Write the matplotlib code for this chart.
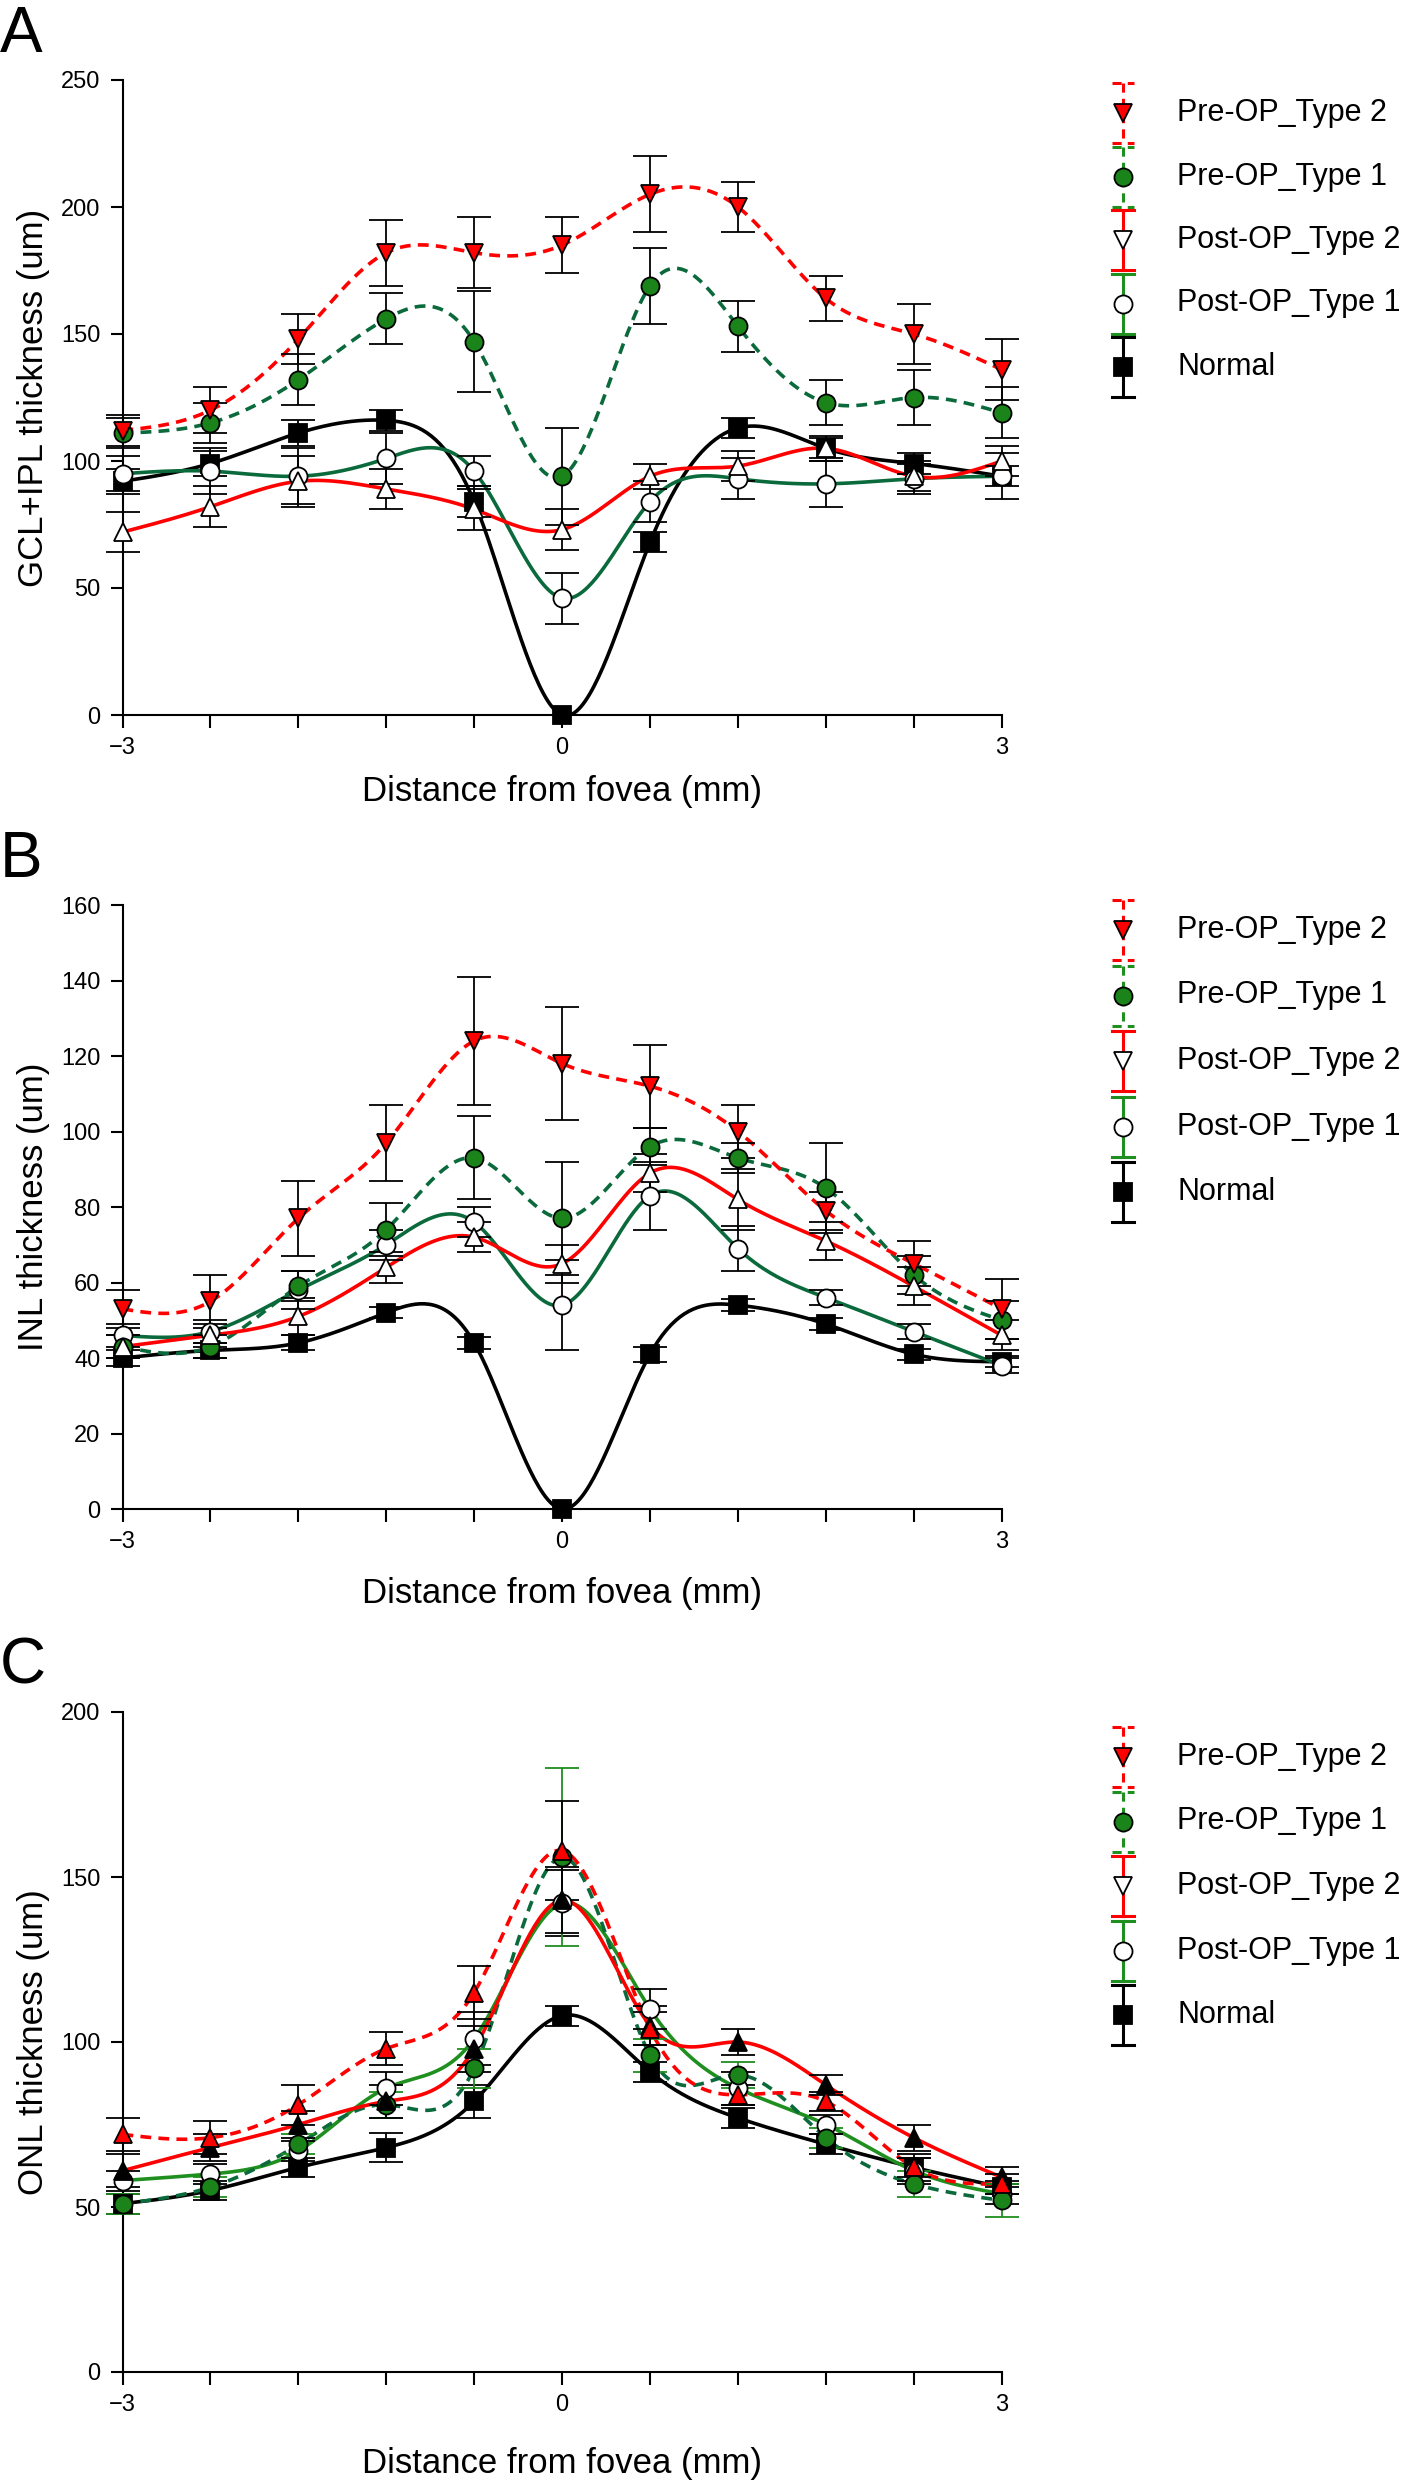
import numpy as np
import matplotlib
matplotlib.use("Agg")
import matplotlib.pyplot as plt

plt.rcParams['font.family'] = ['Liberation Sans', 'DejaVu Sans']

# distance from fovea (mm)
x = [-3, -2.4, -1.8, -1.2, -0.6, 0, 0.6, 1.2, 1.8, 2.4, 3]
labels = ['Pre-OP_Type 2', 'Pre-OP_Type 1', 'Post-OP_Type 2', 'Post-OP_Type 1', 'Normal']

# A: GCL+IPL
a_pre2 = [112, 120, 148, 182, 182, 185, 205, 200, 164, 150, 136]
a_pre2_err = [6, 9, 10, 13, 14, 11, 15, 10, 9, 12, 12]
a_pre1 = [111, 115, 132, 156, 147, 94, 169, 153, 123, 125, 119]
a_pre1_err = [6, 8, 10, 10, 20, 19, 15, 10, 9, 11, 10]
a_post2 = [72, 82, 92, 89, 81, 73, 94, 98, 105, 94, 100]
a_post2_err = [8, 8, 10, 8, 8, 8, 5, 6, 5, 6, 6]
a_post1 = [95, 96, 94, 101, 96, 46, 84, 93, 91, 93, 94]
a_post1_err = [7, 9, 11, 10, 6, 10, 8, 8, 9, 6, 9]
a_normal = [92, 99, 111, 116, 84, 0, 68, 113, 105, 99, 94]
a_normal_err = [5, 5, 5, 4, 6, 0, 4, 4, 4, 4, 4]

# B: INL
b_pre2 = [53, 55, 77, 97, 124, 118, 112, 100, 79, 65, 53]
b_pre2_err = [5, 7, 10, 10, 17, 15, 11, 7, 5, 6, 8]
b_pre1 = [43, 43, 59, 74, 93, 77, 96, 93, 85, 62, 50]
b_pre1_err = [3, 3, 4, 7, 11, 15, 5, 4, 12, 5, 5]
b_post2 = [43, 46, 51, 64, 72, 65, 89, 82, 71, 59, 46]
b_post2_err = [3, 3, 5, 4, 4, 5, 5, 8, 5, 5, 4]
b_post1 = [46, 47, 58, 70, 76, 54, 83, 69, 56, 47, 38]
b_post1_err = [3, 3, 5, 4, 4, 12, 9, 6, 2, 2, 2]
b_normal = [40, 42, 44, 52, 44, 0, 41, 54, 49, 41, 39]
b_normal_err = [2, 2, 2, 1.5, 1.5, 0, 2, 1.5, 1.5, 1.5, 1.5]

# C: ONL
c_pre2 = [72, 71, 81, 98, 115, 158, 104, 84, 82, 62, 57]
c_pre2_err = [5, 5, 6, 5, 8, 15, 5, 3, 3, 4, 3]
c_pre1 = [51, 56, 69, 81, 92, 156, 96, 90, 71, 57, 52]
c_pre1_err = [3, 3, 3, 4, 6, 27, 5, 4, 3, 4, 5]
c_post2 = [61, 68, 75, 82, 98, 143, 105, 100, 87, 71, 59]
c_post2_err = [5, 4, 4, 5, 7, 10, 6, 4, 3, 4, 3]
c_post1 = [58, 60, 67, 86, 101, 142, 110, 86, 75, 61, 54]
c_post1_err = [3, 3, 3, 5, 8, 10, 6, 5, 3, 4, 3]
c_normal = [51, 55, 62, 68, 82, 108, 91, 77, 69, 62, 56]
c_normal_err = [3, 3, 3, 4.5, 5, 3, 3, 3, 3, 3, 2]


def smooth(xs, ys, num=400):
    # natural cubic spline through the points (curve style of the original)
    xs = np.asarray(xs, float)
    ys = np.asarray(ys, float)
    n = len(xs)
    h = np.diff(xs)
    A = np.zeros((n, n))
    b = np.zeros(n)
    A[0, 0] = A[-1, -1] = 1
    for i in range(1, n - 1):
        A[i, i - 1] = h[i - 1]
        A[i, i] = 2 * (h[i - 1] + h[i])
        A[i, i + 1] = h[i]
        b[i] = 6 * ((ys[i + 1] - ys[i]) / h[i] - (ys[i] - ys[i - 1]) / h[i - 1])
    M = np.linalg.solve(A, b)
    xx = np.linspace(xs[0], xs[-1], num)
    k = np.clip(np.searchsorted(xs, xx) - 1, 0, n - 2)
    hh = xs[k + 1] - xs[k]
    t0 = xs[k + 1] - xx
    t1 = xx - xs[k]
    yy = (M[k] * t0 ** 3 + M[k + 1] * t1 ** 3) / (6 * hh) \
        + (ys[k] / hh - M[k] * hh / 6) * t0 + (ys[k + 1] / hh - M[k + 1] * hh / 6) * t1
    return xx, yy


RED = '#ff0000'
DKGREEN = '#0b6a3c'
GREEN = '#1f8f1f'
MKGREEN = '#1a841a'
DASH = (0, (3, 2))

fig = plt.figure(figsize=(14.24, 24.8), dpi=100)
W, H = 1424, 2480
over = fig.add_axes([0, 0, 1, 1], zorder=-1)
over.set_xlim(0, W)
over.set_ylim(H, 0)
over.axis('off')

panels = [
    dict(letter='A', top=80, bottom=715, ymax=250, ystep=50, ylabel='GCL+IPL thickness (um)',
         data=[(a_normal, a_normal_err), (a_post1, a_post1_err), (a_pre1, a_pre1_err),
               (a_post2, a_post2_err), (a_pre2, a_pre2_err)],
         pre2_m='v', post2_fc='white', green2=DKGREEN, pre1_ecolor='black',
         leg_y=113, leg_dy=63.5, xlab_y=-0.095),
    dict(letter='B', top=905, bottom=1509, ymax=160, ystep=20, ylabel='INL thickness (um)',
         data=[(b_normal, b_normal_err), (b_post1, b_post1_err), (b_pre1, b_pre1_err),
               (b_post2, b_post2_err), (b_pre2, b_pre2_err)],
         pre2_m='v', post2_fc='white', green2=DKGREEN, pre1_ecolor='black',
         leg_y=930, leg_dy=65.5, xlab_y=-0.112),
    dict(letter='C', top=1712, bottom=2372, ymax=200, ystep=50, ylabel='ONL thickness (um)',
         data=[(c_normal, c_normal_err), (c_post1, c_post1_err), (c_pre1, c_pre1_err),
               (c_post2, c_post2_err), (c_pre2, c_pre2_err)],
         pre2_m='^', post2_fc='black', green2=GREEN, pre1_ecolor=GREEN,
         leg_y=1757, leg_dy=64.5, xlab_y=-0.113),
]

left_px, right_px = 122.5, 1001.7

for p in panels:
    ax = fig.add_axes([left_px / W, 1 - p['bottom'] / H,
                       (right_px - left_px) / W, (p['bottom'] - p['top']) / H])
    # order: Normal, Post1, Pre1, Post2, Pre2
    styles = [
        dict(color='black', ls='-', marker='s', mfc='black', ecolor='black'),
        dict(color=p['green2'], ls='-', marker='o', mfc='white', ecolor='black'),
        dict(color=DKGREEN, ls=DASH, marker='o', mfc=MKGREEN, ecolor=p['pre1_ecolor']),
        dict(color=RED, ls='-', marker='^', mfc=p['post2_fc'], ecolor='black'),
        dict(color=RED, ls=DASH, marker=p['pre2_m'], mfc=RED, ecolor='black'),
    ]
    for (vals, errs), st in zip(p['data'], styles):
        xx, yy = smooth(x, vals)
        ax.plot(xx, yy, color=st['color'], ls=st['ls'], lw=2.6, zorder=2)
    for (vals, errs), st in zip(p['data'], styles):
        ax.errorbar(x, vals, yerr=errs, fmt='none', ecolor=st['ecolor'], elinewidth=1.3,
                    capsize=12, capthick=1.3, zorder=3, clip_on=False)
    for (vals, errs), st in zip(p['data'], styles):
        ax.plot(x, vals, ls='none', marker=st['marker'], ms=13, mfc=st['mfc'], mec='black',
                mew=1.3, zorder=4, clip_on=False)

    ax.set_xlim(-3, 3)
    ax.set_ylim(0, p['ymax'])
    ax.set_xticks(x)
    ax.set_xticklabels(['\u22123' if v == -3 else ('0' if v == 0 else ('3' if v == 3 else '')) for v in x])
    ax.set_yticks(np.arange(0, p['ymax'] + 1, p['ystep']))
    for s in ['top', 'right']:
        ax.spines[s].set_visible(False)
    for s in ['left', 'bottom']:
        ax.spines[s].set_linewidth(1.5)
    ax.tick_params(direction='out', length=9, width=1.5, labelsize=17, pad=7)
    ax.set_xlabel('Distance from fovea (mm)', fontsize=25)
    ax.xaxis.set_label_coords(0.5, p['xlab_y'])
    ax.set_ylabel(p['ylabel'], fontsize=25)
    ax.yaxis.set_label_coords(-0.082, 0.5)

    over.text(0, p['top'] - 28, p['letter'], fontsize=46, ha='left', va='baseline')

    # legend drawn as vertical error-bar glyphs, like the original
    leg = [
        (RED, DASH, p['pre2_m'] if False else 'v', RED),
        (GREEN, DASH, 'o', MKGREEN),
        (RED, '-', 'v', 'white'),
        (GREEN, '-', 'o', 'white'),
        ('black', '-', 's', 'black'),
    ]
    mx, tx = 1123, 1177
    for i, (lab, (col, ls, mk, fc)) in enumerate(zip(labels, leg)):
        cy = p['leg_y'] + i * p['leg_dy']
        over.plot([mx, mx], [cy - 30, cy + 30], color=col, ls=ls, lw=2.2)
        for yy in (cy - 30, cy + 30):
            over.plot([mx - 11, mx + 11], [yy, yy], color=col, ls=ls, lw=2.2)
        over.plot([mx], [cy], marker=mk, ms=13, mfc=fc, mec='black', mew=1.3, ls='none')
        over.text(tx, cy, lab, fontsize=22, ha='left', va='center')

fig.savefig('out.png', dpi=100)
